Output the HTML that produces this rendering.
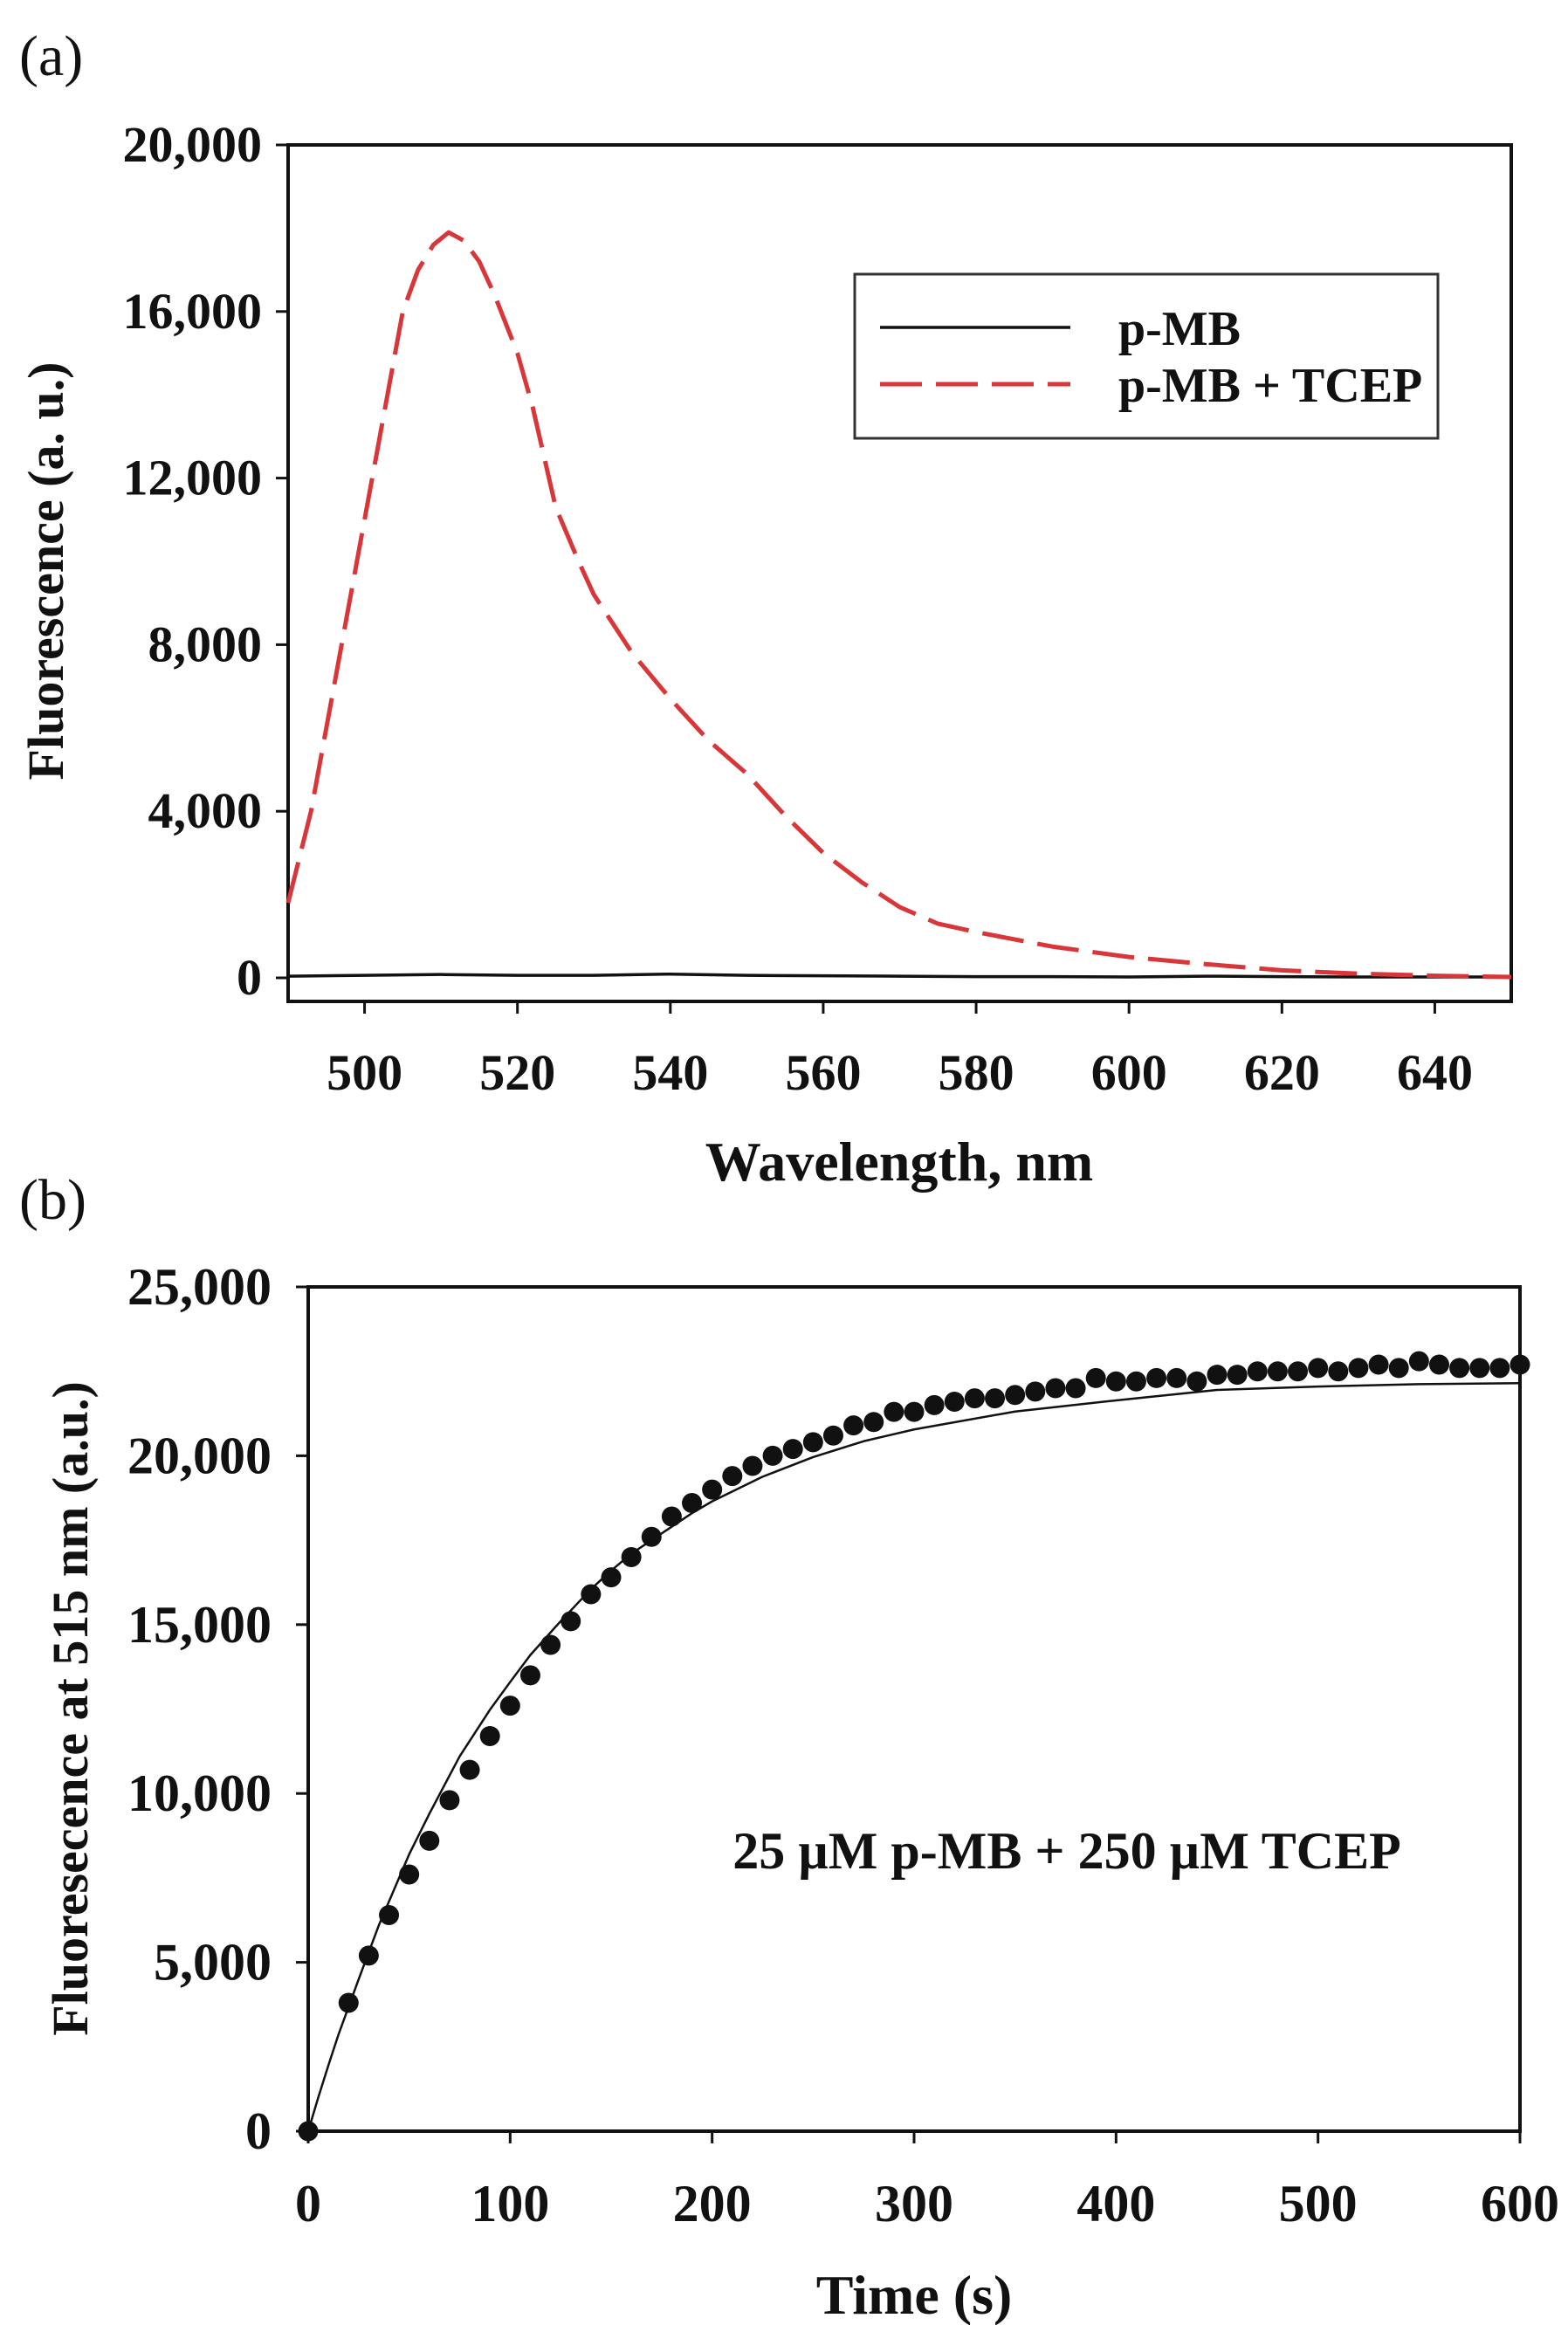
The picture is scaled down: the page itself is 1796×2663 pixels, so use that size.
<!DOCTYPE html>
<html><head><meta charset="utf-8"><style>
html,body{margin:0;padding:0;background:#fff}
svg{display:block}
text{font-family:"Liberation Serif",serif;font-weight:bold;fill:#111}
</style></head><body>
<svg id="fig" width="1796" height="2663" viewBox="0 0 1796 2663" xmlns="http://www.w3.org/2000/svg">
<rect width="1796" height="2663" fill="#fff"/>
<text x="22" y="86" font-size="66" style="font-weight:normal">(a)</text>
<text x="22" y="1396" font-size="66" style="font-weight:normal">(b)</text>
<g id="ga"></g>
<g id="gb"></g>
</svg>
<script>
// Panel (a) data
const aWave = [490,493,495,498,500,503,505,507,509,511,513,515,517,520,522,525,528,530,535,540,545,550,555,560,565,570,575,580,590,600,610,620,630,640,650];
const aTcep = [1800,4000,6000,9000,11000,14000,16000,17000,17600,17900,17700,17200,16400,15000,13700,11300,10000,9200,7800,6700,5700,4900,3900,3000,2300,1700,1300,1100,750,500,330,180,100,50,20];
const aPmbWave = [490,500,510,520,530,540,550,560,570,580,590,600,610,620,630,640,650];
const aPmb = [40,60,80,60,60,90,60,50,40,30,30,20,40,30,20,20,20];
const aXTicks = [500,520,540,560,580,600,620,640];
const aYTicks = [0,4000,8000,12000,16000,20000];
const aYLabels = ["0","4,000","8,000","12,000","16,000","20,000"];
// Panel (b) data
const bTime = [0,20,30,40,50,60,70,80,90,100,110,120,130,140,150,160,170,180,190,200,210,220,230,240,250,260,270,280,290,300,310,320,330,340,350,360,370,380,390,400,410,420,430,440,450,460,470,480,490,500,510,520,530,540,550,560,570,580,590,600];
const bVals = [0,3800,5200,6400,7600,8600,9800,10700,11700,12600,13500,14400,15100,15900,16400,17000,17600,18200,18600,19000,19400,19700,20000,20200,20400,20600,20900,21000,21300,21300,21500,21600,21700,21700,21800,21900,22000,22000,22300,22200,22200,22300,22300,22200,22400,22400,22500,22500,22500,22600,22500,22600,22700,22600,22800,22700,22600,22600,22600,22700];
const fitTime = [0,5,10,15,25,35,50,60,75,90,100,110,125,140,150,160,175,190,200,225,250,275,300,350,400,450,500,550,600];
const fitVals = [0,1000,1950,2860,4500,6100,8200,9400,11100,12480,13300,14100,15100,16050,16600,17100,17700,18300,18650,19380,19960,20430,20780,21310,21640,21950,22050,22120,22150];
const bXTicks = [0,100,200,300,400,500,600];
const bYTicks = [0,5000,10000,15000,20000,25000];
const bYLabels = ["0","5,000","10,000","15,000","20,000","25,000"];

const NS="http://www.w3.org/2000/svg";
function mk(parent,tag,attrs,txt){const e=document.createElementNS(NS,tag);for(const k in attrs)e.setAttribute(k,attrs[k]);if(txt!==undefined)e.textContent=txt;parent.appendChild(e);return e;}

// ---- Panel a ----
const ga=document.getElementById('ga');
const aL=330,aR=1731,aT=166,aB=1147,aY0=1120;
const ax=v=>aL+(v-490)/(650-490)*(aR-aL);
const ay=v=>aY0-v/20000*(aY0-aT);
let e;
e=mk(ga,'rect',{x:aL,y:aT,width:aR-aL,height:aB-aT,fill:'none',stroke:'#111','stroke-width':4});


aYTicks.forEach((t,i)=>{
  e=mk(ga,'line',{x1:aL-14,x2:aL,y1:ay(t),y2:ay(t),stroke:'#111','stroke-width':3});
  
  
  e=mk(ga,'text',{x:aL-30,y:ay(t)+19,'font-size':58,'text-anchor':'end'},aYLabels[i]);
  
  
});
aXTicks.forEach(t=>{
  e=mk(ga,'line',{x1:ax(t),x2:ax(t),y1:aB,y2:aB+14,stroke:'#111','stroke-width':3});
  
  
  e=mk(ga,'text',{x:ax(t),y:1248,'font-size':58,'text-anchor':'middle'},String(t));
  
  
});
e=mk(ga,'text',{x:1030,y:1352,'font-size':64,'text-anchor':'middle'},'Wavelength, nm');


e=mk(ga,'text',{x:0,y:0,'font-size':58,'text-anchor':'middle',transform:'translate(72,654) rotate(-90)'},'Fluorescence (a. u.)');


e=mk(ga,'polyline',{points:aPmbWave.map((w,i)=>ax(w)+','+ay(aPmb[i])).join(' '),fill:'none',stroke:'#111','stroke-width':3.5});


e=mk(ga,'polyline',{points:aWave.map((w,i)=>ax(w)+','+ay(aTcep[i])).join(' '),fill:'none',stroke:'#d9363a','stroke-width':5,'stroke-dasharray':'48,16','stroke-linejoin':'round'});


e=mk(ga,'rect',{x:979,y:314,width:668,height:188,fill:'#fff',stroke:'#333','stroke-width':3});


e=mk(ga,'line',{x1:1008,x2:1226,y1:375,y2:375,stroke:'#111','stroke-width':3.5});


e=mk(ga,'text',{x:1281,y:395,'font-size':56},'p-MB');


e=mk(ga,'line',{x1:1008,x2:1226,y1:440,y2:440,stroke:'#d9363a','stroke-width':5,'stroke-dasharray':'48,16'});


e=mk(ga,'text',{x:1281,y:460,'font-size':56},'p-MB + TCEP');



// ---- Panel b ----
const gb=document.getElementById('gb');
const bL=353,bR=1741,bT=1474,bB=2441;
const bx=v=>bL+v/600*(bR-bL);
const by=v=>bB-v/25000*(bB-bT);
e=mk(gb,'rect',{x:bL,y:bT,width:bR-bL,height:bB-bT,fill:'none',stroke:'#111','stroke-width':4});


bYTicks.forEach((t,i)=>{
  e=mk(gb,'line',{x1:bL-14,x2:bL,y1:by(t),y2:by(t),stroke:'#111','stroke-width':3});
  
  
  e=mk(gb,'text',{x:bL-42,y:by(t)+20,'font-size':60,'text-anchor':'end'},bYLabels[i]);
  
  
});
bXTicks.forEach(t=>{
  e=mk(gb,'line',{x1:bx(t),x2:bx(t),y1:bB,y2:bB+14,stroke:'#111','stroke-width':3});
  
  
  e=mk(gb,'text',{x:bx(t),y:2544,'font-size':60,'text-anchor':'middle'},String(t));
  
  
});
e=mk(gb,'text',{x:1047,y:2650,'font-size':64,'text-anchor':'middle'},'Time (s)');


e=mk(gb,'text',{x:0,y:0,'font-size':58,'text-anchor':'middle',transform:'translate(100,1957) rotate(-90)'},'Fluoresecence at 515 nm (a.u.)');


e=mk(gb,'polyline',{points:fitTime.map((t,i)=>bx(t)+','+by(fitVals[i])).join(' '),fill:'none',stroke:'#111','stroke-width':2.5,'stroke-linejoin':'round'});


bTime.forEach((t,i)=>{
  e=mk(gb,'circle',{cx:bx(t),cy:by(bVals[i]),r:11.5,fill:'#111'});
  
  
});
e=mk(gb,'text',{x:1222,y:2140,'font-size':60,'text-anchor':'middle'},'25 \u00b5M p-MB + 250 \u00b5M TCEP');


</script>
</body></html>
